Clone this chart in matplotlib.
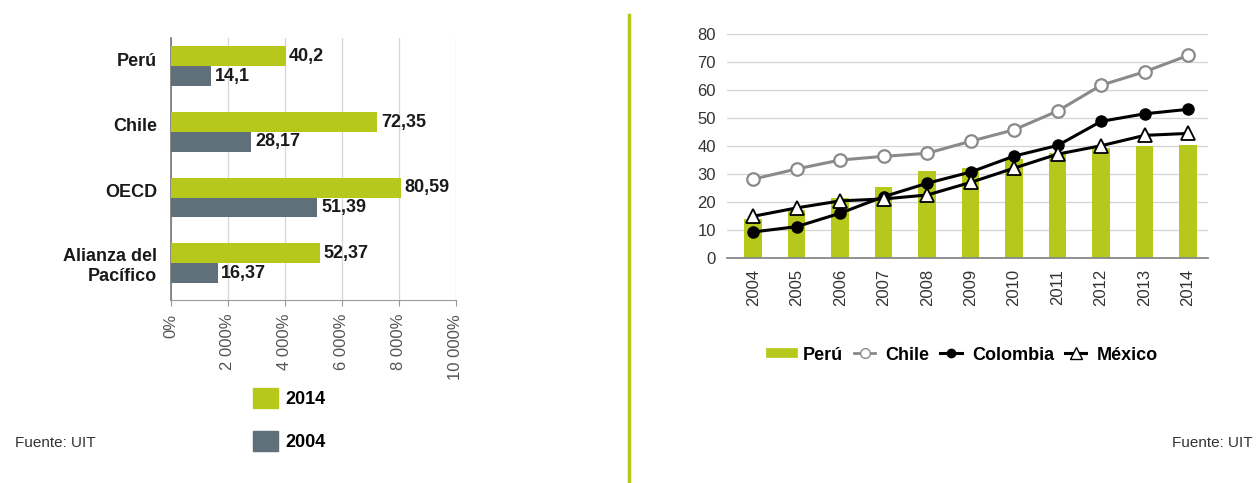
import matplotlib
matplotlib.use("Agg")
import matplotlib.pyplot as plt
import matplotlib.transforms as mtransforms
from matplotlib import font_manager
from matplotlib.patches import Patch
from matplotlib.lines import Line2D

# datos
paises = ["Perú", "Chile", "OECD", "Alianza del\nPacífico"]
valores_2014 = [40.2, 72.35, 80.59, 52.37]
valores_2004 = [14.1, 28.17, 51.39, 16.37]
etiquetas_2014 = ["40,2", "72,35", "80,59", "52,37"]
etiquetas_2004 = ["14,1", "28,17", "51,39", "16,37"]
ticks_pct = [0, 20, 40, 60, 80, 100]
ticks_pct_txt = ["0%", "2 000%", "4 000%", "6 000%", "8 000%", "10 000%"]

anios = ["2004", "2005", "2006", "2007", "2008", "2009", "2010", "2011", "2012", "2013", "2014"]
peru = [14.1, 17.0, 21.3, 25.2, 31.1, 32.0, 35.2, 37.4, 39.2, 39.9, 40.2]
chile = [28.17, 31.8, 35.0, 36.3, 37.4, 41.7, 45.8, 52.5, 61.7, 66.5, 72.35]
colombia = [9.3, 11.2, 16.0, 21.9, 26.7, 30.7, 36.4, 40.2, 48.8, 51.5, 53.1]
mexico = [14.9, 17.9, 20.4, 21.1, 22.5, 27.0, 32.1, 37.1, 40.1, 43.8, 44.5]

VERDE = "#b7c81c"
GRIS = "#5f707a"
TEXTO = "#1a1a1a"

nombres = {f.name for f in font_manager.fontManager.ttflist}
fuente = "Liberation Sans Narrow" if "Liberation Sans Narrow" in nombres else "Liberation Sans"
plt.rcParams["font.family"] = [fuente, "DejaVu Sans"]

fig = plt.figure(figsize=(12.57, 4.83), dpi=100)

# --- barras horizontales ---
ax1 = fig.add_axes([0.136, 0.379, 0.2267, 0.5424])
y = list(range(len(paises)))
h = 0.3
y_verde = [i - h / 2 for i in y]
y_gris = [i + h / 2 for i in y]
ax1.barh(y_verde, valores_2014, height=h, color=VERDE, zorder=3)
ax1.barh(y_gris, valores_2004, height=h, color=GRIS, zorder=3)
for yy, v, t in zip(y_verde, valores_2014, etiquetas_2014):
    ax1.text(v + 1.3, yy, t, va="center", ha="left", fontsize=13,
             fontweight="bold", color=TEXTO)
for yy, v, t in zip(y_gris, valores_2004, etiquetas_2004):
    ax1.text(v + 1.3, yy, t, va="center", ha="left", fontsize=13,
             fontweight="bold", color=TEXTO)

ax1.set_xlim(0, 100)
ax1.set_ylim(3.56, -0.43)
ax1.set_xticks(ticks_pct)
ax1.set_xticklabels(ticks_pct_txt, rotation=90, fontsize=12, color="#555555")
ax1.set_yticks(y)
ax1.set_yticklabels(paises, fontsize=13, fontweight="bold", color=TEXTO,
                    linespacing=1.25)
ax1.tick_params(axis="y", length=0, pad=10)
ax1.tick_params(axis="x", length=4, color="#999999", pad=6)
ax1.grid(axis="x", color="#d6d6d6", lw=0.9, zorder=0)
for lado in ["top", "right"]:
    ax1.spines[lado].set_visible(False)
ax1.spines["left"].set_color("#777777")
ax1.spines["bottom"].set_color("#999999")
ax1.spines["left"].set_linewidth(1.2)

# etiquetas de una línea un poco más arriba
subir = mtransforms.ScaledTranslation(0, 5 / 72, fig.dpi_scale_trans)
for lab in ax1.get_yticklabels():
    if "\n" not in lab.get_text():
        lab.set_transform(lab.get_transform() + subir)

fig.legend(handles=[Patch(color=VERDE), Patch(color=GRIS)], labels=["2014", "2004"],
           loc="upper left", bbox_to_anchor=(246 / 1257, 1 - 381 / 483),
           frameon=False, handlelength=1.35, handleheight=1.35,
           labelspacing=1.25, handletextpad=0.45, borderaxespad=0,
           prop={"size": 13, "weight": "bold"})

fig.text(15 / 1257, 1 - 443 / 483, "Fuente: UIT", fontsize=11, color="#333333",
         va="center", ha="left")

# línea divisoria
fig.add_artist(Line2D([629 / 1257, 629 / 1257], [0, 1 - 15 / 483],
                      transform=fig.transFigure, color=VERDE, lw=2.5))

# --- barras y líneas ---
ax2 = fig.add_axes([0.5784, 0.4658, 0.3827, 0.4638])
x = list(range(len(anios)))
ax2.bar(x, peru, width=0.4, color=VERDE, zorder=2, label="Perú")
ax2.plot(x, chile, color="#8a8a8a", lw=2.2, marker="o", ms=9,
         mfc="white", mec="#8a8a8a", mew=1.6, zorder=4, label="Chile")
ax2.plot(x, colombia, color="black", lw=2.2, marker="o", ms=8,
         mfc="black", mec="black", zorder=5, label="Colombia")
ax2.plot(x, mexico, color="black", lw=2.2, marker="^", ms=10,
         mfc="white", mec="black", mew=1.3, zorder=6, label="México")

ax2.set_xlim(-0.6, 10.46)
ax2.set_ylim(0, 80)
ax2.set_yticks(range(0, 81, 10))
ax2.set_xticks(x)
ax2.set_xticklabels(anios, rotation=90, fontsize=12, color="#333333")
ax2.tick_params(axis="y", length=0, pad=8, labelsize=12, labelcolor="#333333")
ax2.tick_params(axis="x", length=0, pad=8)
ax2.grid(axis="y", color="#d3d3d3", lw=0.9, zorder=0)
for lado in ["top", "right", "left"]:
    ax2.spines[lado].set_visible(False)
ax2.spines["bottom"].set_color("#888888")
ax2.spines["bottom"].set_linewidth(1.3)

manijas = [
    Line2D([], [], color=VERDE, lw=7),
    Line2D([], [], color="#8a8a8a", lw=2, marker="o", ms=7, mfc="white", mec="#8a8a8a"),
    Line2D([], [], color="black", lw=2.2, marker="o", ms=6, mfc="black"),
    Line2D([], [], color="black", lw=2.2, marker="^", ms=8, mfc="white", mec="black"),
]
fig.legend(handles=manijas, labels=["Perú", "Chile", "Colombia", "México"],
           loc="center left", bbox_to_anchor=(764 / 1257, 1 - 355 / 483),
           ncol=4, frameon=False, handlelength=1.2, handletextpad=0.55,
           columnspacing=0.6, borderaxespad=0,
           prop={"size": 13, "weight": "bold"})

fig.text(1253 / 1257, 1 - 443 / 483, "Fuente: UIT", fontsize=11, color="#333333",
         va="center", ha="right")

fig.savefig("out.png", dpi=100, facecolor="white")
